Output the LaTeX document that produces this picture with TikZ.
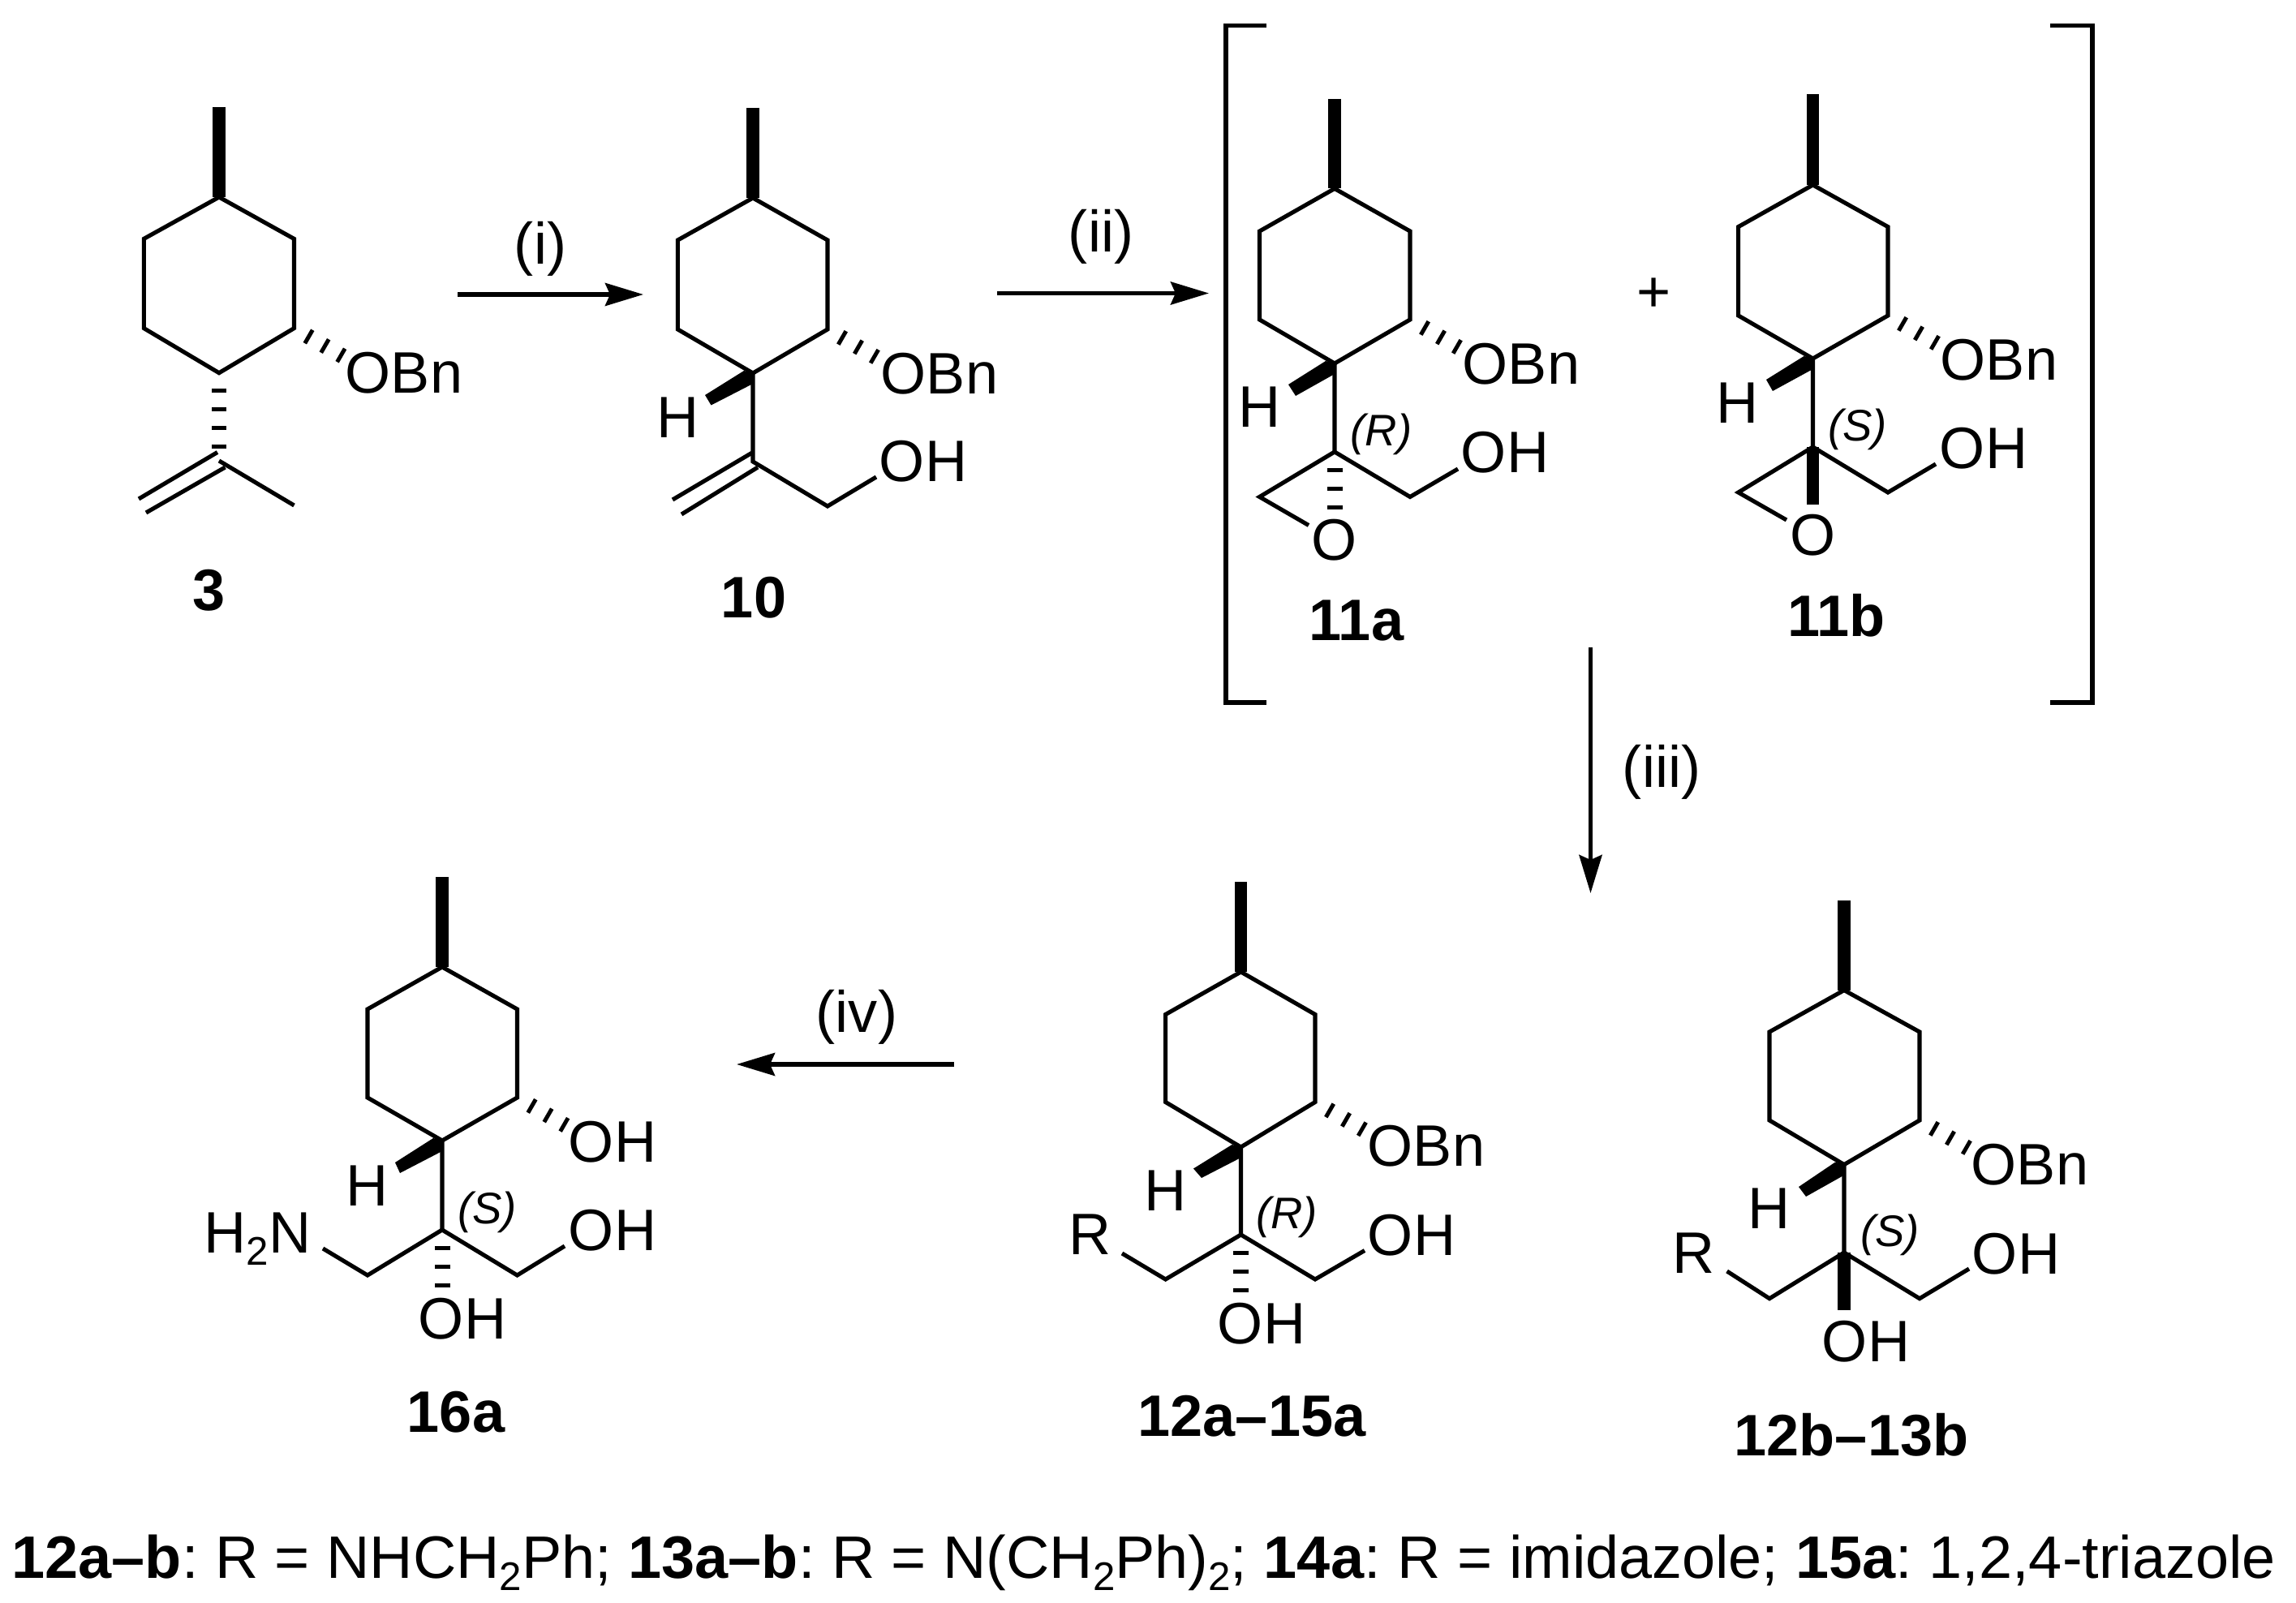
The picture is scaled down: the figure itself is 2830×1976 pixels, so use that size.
\documentclass[tikz,border=0pt]{standalone}
\usepackage{fontspec}
\usepackage{tikz}
\usetikzlibrary{arrows.meta}
\setmainfont{Liberation Sans}

\newcommand{\chemsub}[1]{\raisebox{-0.15cm}{\fontsize{14}{16}\selectfont #1}}

\tikzset{
	bond/.style={line width=1.45pt, line join=miter},
	boldbond/.style={line width=4.5pt},
	hashbond/.style={line width=5.4pt, dash pattern=on 0.05cm off 0.18cm, shorten <=0.195cm},
	hashup/.style={line width=5.4pt, dash pattern=on 0.05cm off 0.18cm, shorten <=0.183cm},
	wedgebond/.style={fill=black},
	atom/.style={inner sep=0pt, font=\fontsize{20.5}{24}\selectfont},
	stereo/.style={inner sep=0pt, font=\fontsize{15.5}{18}\selectfont\itshape},
	cmpd/.style={inner sep=0pt, font=\fontsize{20.5}{24}\selectfont\bfseries},
	reaction/.style={-{Stealth[length=0.47cm, width=0.28cm, inset=0.06cm]}, line width=1.5pt},
}

\begin{document}
\begin{tikzpicture}[x=0.01cm, y=-0.01cm]
	\useasboundingbox (0,0) rectangle (2830,1976);

	\coordinate (a0) at (270, 132);
	\coordinate (a1) at (270, 243);
	\coordinate (a2) at (362.5, 294.4);
	\coordinate (a3) at (362.5, 404.6);
	\coordinate (a4) at (270, 459.7);
	\coordinate (a5) at (177.3, 404.6);
	\coordinate (a6) at (177.3, 294.4);
	\coordinate (a7) at (270, 568);
	\coordinate (a8) at (362.5, 623);
	\coordinate (ah) at (270, 553);
	\coordinate (ax) at (422.5, 439.2);
	\coordinate (ad1) at (268, 557.5);
	\coordinate (ad2) at (171, 615);
	\coordinate (ad3) at (277.5, 576);
	\coordinate (ad4) at (180, 632);
	\node[atom] (aobn) at (498, 460) {OBn};
	\node[cmpd] (alabel) at (258, 728) {3};
	\draw[boldbond] (a0) -- (a1);
	\draw[bond] (a1) -- (a2) -- (a3) -- (a4) -- (a5) -- (a6) -- cycle;
	\draw[hashbond] (a4) -- (ah);
	\draw[hashup] (a3) -- (ax);
	\draw[bond] (a7) -- (a8);
	\draw[bond] (ad1) -- (ad2);
	\draw[bond] (ad3) -- (ad4);

	\coordinate (b0) at (928, 133);
	\coordinate (b1) at (928, 244);
	\coordinate (b2) at (1020, 296);
	\coordinate (b3) at (1020, 406);
	\coordinate (b4) at (928, 460);
	\coordinate (b5) at (835.4, 406);
	\coordinate (b6) at (835.4, 296);
	\coordinate (b7) at (928, 569);
	\coordinate (b8) at (1020, 624);
	\coordinate (b9) at (1080, 588);
	\coordinate (bw1) at (869, 487);
	\coordinate (bw2) at (876.5, 499.5);
	\coordinate (bx) at (1080, 440.6);
	\coordinate (bd1) at (928, 557.5);
	\coordinate (bd2) at (829, 616);
	\coordinate (bd3) at (934, 576);
	\coordinate (bd4) at (840, 634);
	\node[atom] (bobn) at (1158, 461) {OBn};
	\node[atom] (bh) at (836, 515) {H};
	\node[atom] (boh) at (1138, 569) {OH};
	\node[cmpd] (blabel) at (929, 737) {10};
	\draw[boldbond] (b0) -- (b1);
	\draw[bond] (b1) -- (b2) -- (b3) -- (b4) -- (b5) -- (b6) -- cycle;
	\fill[wedgebond] (b4) -- ([xshift=-0.11cm, yshift=0.03cm]b4) -- (bw1) -- (bw2) -- ([yshift=-0.13cm]b4) -- cycle;
	\draw[hashup] (b3) -- (bx);
	\draw[bond] (b4) -- (b7) -- (b8) -- (b9);
	\draw[bond] (bd1) -- (bd2);
	\draw[bond] (bd3) -- (bd4);

	\coordinate (c0) at (1645, 122);
	\coordinate (c1) at (1645, 232.5);
	\coordinate (c2) at (1738, 285);
	\coordinate (c3) at (1738, 394);
	\coordinate (c4) at (1645, 448);
	\coordinate (c5) at (1552.5, 394);
	\coordinate (c6) at (1552.5, 285);
	\coordinate (c7) at (1645, 557);
	\coordinate (c8) at (1552.5, 612.5);
	\coordinate (c9) at (1613, 647.5);
	\coordinate (c10) at (1738, 612.5);
	\coordinate (c11) at (1797, 578);
	\coordinate (ch) at (1645, 627.5);
	\coordinate (cw1) at (1588, 474);
	\coordinate (cw2) at (1597, 488);
	\coordinate (cx) at (1798, 428.6);
	\node[atom] (cobn) at (1875, 449) {OBn};
	\node[atom] (cH) at (1553, 502) {H};
	\node[atom] (coh) at (1855, 558) {OH};
	\node[atom] (co) at (1645, 666) {O};
	\node[stereo] (cr) at (1702.5, 535) {(R)};
	\node[cmpd] (clabel) at (1672, 765) {11a};
	\draw[boldbond] (c0) -- (c1);
	\draw[bond] (c1) -- (c2) -- (c3) -- (c4) -- (c5) -- (c6) -- cycle;
	\fill[wedgebond] (c4) -- ([xshift=-0.11cm, yshift=0.03cm]c4) -- (cw1) -- (cw2) -- ([yshift=-0.13cm]c4) -- cycle;
	\draw[hashup] (c3) -- (cx);
	\draw[bond] (c4) -- (c7) -- (c10) -- (c11);
	\draw[bond] (c9) -- (c8) -- (c7);
	\draw[hashbond] (c7) -- (ch);

	\node[atom] (plus) at (2039, 364) {+};

	\coordinate (d0) at (2234.5, 116.5);
	\coordinate (d1) at (2234.5, 228);
	\coordinate (d2) at (2327, 279.6);
	\coordinate (d3) at (2327, 389);
	\coordinate (d4) at (2234.5, 442);
	\coordinate (d5) at (2142.6, 389);
	\coordinate (d6) at (2142.6, 279.6);
	\coordinate (d7) at (2234.5, 551);
	\coordinate (d8) at (2142.6, 607);
	\coordinate (d9) at (2202, 641);
	\coordinate (d10) at (2327, 607);
	\coordinate (d11) at (2386, 572);
	\coordinate (dh) at (2234.5, 622);
	\coordinate (dw1) at (2177, 468);
	\coordinate (dw2) at (2185, 482);
	\coordinate (dx) at (2387, 423.6);
	\node[atom] (dobn) at (2464, 443.5) {OBn};
	\node[atom] (dH) at (2142, 497) {H};
	\node[atom] (doh) at (2445, 552.5) {OH};
	\node[atom] (do) at (2234.5, 660) {O};
	\node[stereo] (ds) at (2289.5, 529) {(S)};
	\node[cmpd] (dlabel) at (2263.5, 759) {11b};
	\draw[boldbond] (d0) -- (d1);
	\draw[bond] (d1) -- (d2) -- (d3) -- (d4) -- (d5) -- (d6) -- cycle;
	\fill[wedgebond] (d4) -- ([xshift=-0.11cm, yshift=0.03cm]d4) -- (dw1) -- (dw2) -- ([yshift=-0.13cm]d4) -- cycle;
	\draw[hashup] (d3) -- (dx);
	\draw[bond] (d4) -- (d7) -- (d10) -- (d11);
	\draw[bond] (d9) -- (d8) -- (d7);
	\draw[boldbond] (d7) -- (dh);

	\coordinate (l1) at (1561, 31.5);
	\coordinate (l2) at (1511, 31.5);
	\coordinate (l3) at (1511, 866);
	\coordinate (l4) at (1561, 866);
	\coordinate (r1) at (2527, 31.5);
	\coordinate (r2) at (2579, 31.5);
	\coordinate (r3) at (2579, 866);
	\coordinate (r4) at (2527, 866);
	\draw[bond] (l1) -- (l2) -- (l3) -- (l4);
	\draw[bond] (r1) -- (r2) -- (r3) -- (r4);

	\coordinate (e0) at (1529.5, 1087);
	\coordinate (e1) at (1529.5, 1198);
	\coordinate (e2) at (1621, 1250.5);
	\coordinate (e3) at (1621, 1358.5);
	\coordinate (e4) at (1529.5, 1414);
	\coordinate (e5) at (1436.6, 1358.5);
	\coordinate (e6) at (1436.6, 1250.5);
	\coordinate (e7) at (1529.5, 1522);
	\coordinate (e8) at (1436.6, 1577);
	\coordinate (e9) at (1383, 1545);
	\coordinate (e10) at (1621, 1577);
	\coordinate (e11) at (1682, 1541.5);
	\coordinate (eh) at (1529.5, 1592.5);
	\coordinate (ew1) at (1471, 1440.5);
	\coordinate (ew2) at (1481, 1452);
	\coordinate (ex) at (1681, 1393);
	\node[atom] (eobn) at (1758, 1413) {OBn};
	\node[atom] (eH) at (1437, 1468) {H};
	\node[atom] (eoh) at (1740, 1523) {OH};
	\node[atom] (eoh2) at (1555, 1632) {OH};
	\node[atom] (eR) at (1343.5, 1522) {R};
	\node[stereo] (er) at (1586, 1500) {(R)};
	\node[cmpd] (elabel) at (1543, 1746) {12a–15a};
	\draw[boldbond] (e0) -- (e1);
	\draw[bond] (e1) -- (e2) -- (e3) -- (e4) -- (e5) -- (e6) -- cycle;
	\fill[wedgebond] (e4) -- ([xshift=-0.11cm, yshift=0.03cm]e4) -- (ew1) -- (ew2) -- ([yshift=-0.13cm]e4) -- cycle;
	\draw[hashup] (e3) -- (ex);
	\draw[bond] (e4) -- (e7) -- (e10) -- (e11);
	\draw[bond] (e9) -- (e8) -- (e7);
	\draw[hashbond] (e7) -- (eh);

	\coordinate (f0) at (2273, 1110);
	\coordinate (f1) at (2273, 1220.6);
	\coordinate (f2) at (2366, 1272);
	\coordinate (f3) at (2366, 1381);
	\coordinate (f4) at (2273, 1435.6);
	\coordinate (f5) at (2181, 1381);
	\coordinate (f6) at (2181, 1272);
	\coordinate (f7) at (2273, 1544);
	\coordinate (f8) at (2181, 1600.7);
	\coordinate (f9) at (2128.6, 1567);
	\coordinate (f10) at (2366, 1600.7);
	\coordinate (f11) at (2427, 1564);
	\coordinate (fh) at (2273, 1615);
	\coordinate (fw1) at (2217, 1463);
	\coordinate (fw2) at (2226, 1475);
	\coordinate (fx) at (2426, 1415.6);
	\node[atom] (fobn) at (2502, 1435.5) {OBn};
	\node[atom] (fH) at (2181, 1490) {H};
	\node[atom] (foh) at (2485, 1545.5) {OH};
	\node[atom] (foh2) at (2300, 1654) {OH};
	\node[atom] (fR) at (2088, 1544.5) {R};
	\node[stereo] (fs) at (2329.5, 1522.6) {(S)};
	\node[cmpd] (flabel) at (2282, 1769) {12b–13b};
	\draw[boldbond] (f0) -- (f1);
	\draw[bond] (f1) -- (f2) -- (f3) -- (f4) -- (f5) -- (f6) -- cycle;
	\fill[wedgebond] (f4) -- ([xshift=-0.11cm, yshift=0.03cm]f4) -- (fw1) -- (fw2) -- ([yshift=-0.13cm]f4) -- cycle;
	\draw[hashup] (f3) -- (fx);
	\draw[bond] (f4) -- (f7) -- (f10) -- (f11);
	\draw[bond] (f9) -- (f8) -- (f7);
	\draw[boldbond] (f7) -- (fh);

	\coordinate (g0) at (545, 1081);
	\coordinate (g1) at (545, 1192);
	\coordinate (g2) at (637.5, 1244);
	\coordinate (g3) at (637.5, 1353);
	\coordinate (g4) at (545, 1406);
	\coordinate (g5) at (453, 1353);
	\coordinate (g6) at (453, 1244);
	\coordinate (g7) at (545, 1516);
	\coordinate (g8) at (453, 1572);
	\coordinate (g9) at (398, 1539);
	\coordinate (g10) at (637.5, 1572);
	\coordinate (g11) at (696, 1536);
	\coordinate (gh) at (545, 1586.5);
	\coordinate (gw1) at (487, 1433);
	\coordinate (gw2) at (493, 1446);
	\coordinate (gx) at (697.5, 1387.6);
	\node[atom] (goh1) at (755, 1408) {OH};
	\node[atom] (gH) at (453, 1462) {H};
	\node[atom] (goh) at (755, 1517) {OH};
	\node[atom] (goh2) at (570, 1626) {OH};
	\node[atom, anchor=base east] (gn) at (384, 1544) {H\chemsub{2}N};
	\node[stereo] (gs) at (600.5, 1494.5) {(S)};
	\node[cmpd] (glabel) at (562, 1741) {16a};
	\draw[boldbond] (g0) -- (g1);
	\draw[bond] (g1) -- (g2) -- (g3) -- (g4) -- (g5) -- (g6) -- cycle;
	\fill[wedgebond] (g4) -- ([xshift=-0.11cm, yshift=0.03cm]g4) -- (gw1) -- (gw2) -- ([yshift=-0.13cm]g4) -- cycle;
	\draw[hashup] (g3) -- (gx);
	\draw[bond] (g4) -- (g7) -- (g10) -- (g11);
	\draw[bond] (g9) -- (g8) -- (g7);
	\draw[hashbond] (g7) -- (gh);

	\coordinate (ia) at (564, 363);
	\coordinate (ib) at (793, 363);
	\coordinate (iia) at (1229, 361.5);
	\coordinate (iib) at (1490, 361.5);
	\coordinate (iiia) at (1960.5, 798);
	\coordinate (iiib) at (1960.5, 1101);
	\coordinate (iva) at (1176, 1312);
	\coordinate (ivb) at (908, 1312);
	\path[reaction] (ia) edge (ib);
	\path[reaction] (iia) edge (iib);
	\path[reaction] (iiia) edge (iiib);
	\path[reaction] (iva) edge (ivb);
	\node[atom] (il) at (666, 307) {(i)};
	\node[atom] (iil) at (1357, 292) {(ii)};
	\node[atom] (iiil) at (2048, 952) {(iii)};
	\node[atom] (ivl) at (1056, 1254) {(iv)};

	\node[atom, anchor=base west, font=\fontsize{21}{24}\selectfont\frenchspacing] (key) at (14, 1945) {\textbf{12a–b}: R = NHCH\chemsub{2}Ph; \textbf{13a–b}: R = N(CH\chemsub{2}Ph)\chemsub{2}; \textbf{14a}: R = imidazole; \textbf{15a}: 1,2,4-triazole};
\end{tikzpicture}
\end{document}
